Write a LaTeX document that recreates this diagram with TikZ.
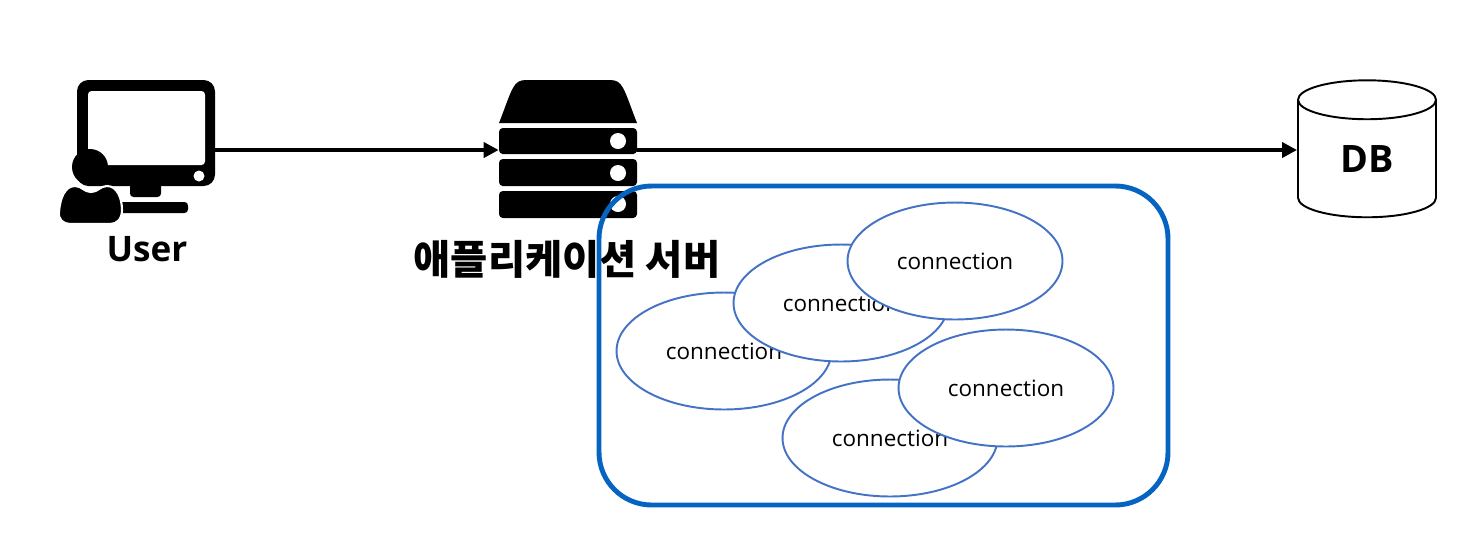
\documentclass[tikz,border=0pt]{standalone}
\usepackage{fontspec}
\setmainfont{Open Sans}
\newfontfamily\korean{Noto Sans CJK KR}
\usetikzlibrary{arrows.meta,shapes.geometric}
\definecolor{boxblue}{HTML}{0563C1}
\definecolor{ringblue}{HTML}{4472C4}
\tikzset{
  iconbox/.style={inner sep=0pt,minimum width=2.76cm,minimum height=2.76cm},
  flowline/.style={-{Triangle[length=8.5pt,width=8.5pt]},line width=2.2pt},
  biglabel/.style={inner sep=0pt,font=\fontsize{20}{24}\selectfont\bfseries},
  connnode/.style={ellipse,draw=ringblue,fill=white,line width=1.1pt,inner sep=0pt,
    minimum width=4.3cm,minimum height=2.34cm,font=\fontsize{12.8}{15}\selectfont}
}
\begin{document}
\begin{tikzpicture}[x=0.02cm,y=-0.02cm,line join=round,line cap=round]
  \useasboundingbox (0,0) rectangle (1470,556);
  \node[iconbox] (user) at (146,150) {};
  \node[iconbox] (server) at (568,150) {};
  \node[cylinder,draw,line width=1.1pt,shape border rotate=90,aspect=0.73,inner sep=0pt,
    minimum width=2.76cm,minimum height=2.74cm,font=\fontsize{21.5}{24}\selectfont\bfseries] (db) at (1367,159) {DB};
  % user icon
  \fill[rounded corners=6.5pt] (77,80) rectangle (215,186);
  \fill[white,rounded corners=2pt] (88,91) rectangle (205,165);
  \fill[white] (199,176) circle (5.5);
  \fill[rounded corners=2pt] (130,180) rectangle (161,197);
  \fill[rounded corners=2pt] (110,202) rectangle (188,213);
  \fill (90,167) circle (18);
  \draw[fill=black,draw=white,line width=1.2pt] (75,186) .. controls (82,186) and (84,192) .. (91,192)
    .. controls (98,192) and (100,186) .. (107,186) .. controls (117,186) and (122,198) .. (122,210)
    .. controls (122,219) and (117,224) .. (110,224) -- (70,224)
    .. controls (63,224) and (58,219) .. (59,212) .. controls (60,198) and (65,186) .. (75,186) -- cycle;
  % server icon
  \fill (499,123) .. controls (505,108) and (509,95) .. (513,88) .. controls (516,82) and (520,80) .. (526,80)
    -- (610,80) .. controls (616,80) and (620,82) .. (623,88) .. controls (627,95) and (631,108) .. (637,123) -- cycle;
  \foreach \ytop/\ybot/\ymid in {128/154/141,159/186/173,191/218/204}{
    \fill[rounded corners=2.2pt] (499,\ytop) rectangle (637,\ybot);
    \fill[white] (618,\ymid) circle (8);
  }
  \draw[flowline] (user) -- (server);
  \draw[flowline] (server) -- (server -| db.west);
  \node[biglabel] (userlabel) at (147,249) {User};
  \node[biglabel,font=\korean\fontsize{23}{28}\selectfont\bfseries] (serverlabel) at (567,259) {애플리케이션 서버};
  % connections
  \node[connnode] (c1) at (724,351) {connection};
  \node[connnode] (c2) at (841,303) {connection};
  \node[connnode] (c3) at (955,261) {connection};
  \node[connnode] (c4) at (890,438) {connection};
  \node[connnode] (c5) at (1006,388) {connection};
  \draw[boxblue,line width=2.8pt,rounded corners=30pt] (599,186) rectangle (1168,505);
\end{tikzpicture}
\end{document}
